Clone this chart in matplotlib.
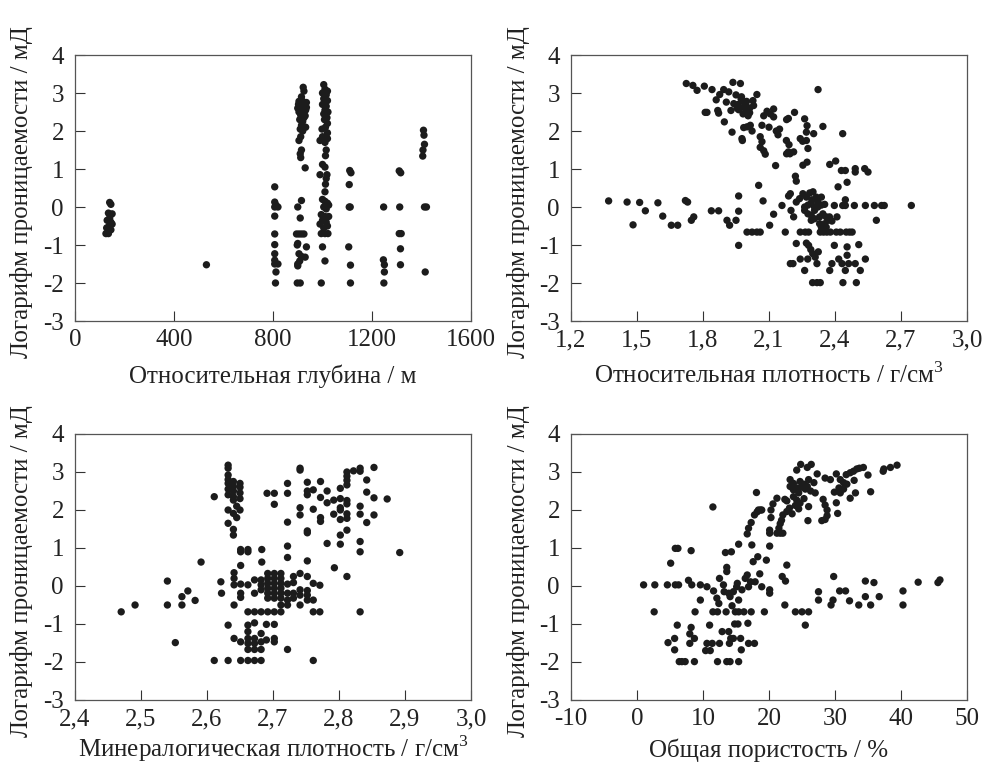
import matplotlib
matplotlib.use("Agg")
import matplotlib.pyplot as plt

plt.rcParams['font.family'] = ['Liberation Serif', 'DejaVu Serif']
plt.rcParams['mathtext.fontset'] = 'custom'
plt.rcParams['mathtext.rm'] = 'Liberation Serif'

# (x, log permeability) pairs
depth_points = [
    (140, 0.12), (145, 0.07), (135, -0.16), (142, -0.22), (150, -0.18), (130, -0.35), (145, -0.40),
    (138, -0.50), (150, -0.45), (128, -0.55), (135, -0.70), (125, -0.70), (145, -0.60), (140, -0.30),
    (531, -1.52),
    (807, 0.53), (807, 0.13), (807, 0.0), (820, 0.0), (807, -0.24), (807, -0.71), (807, -0.99),
    (807, -1.23), (807, -1.40), (807, -1.50), (820, -1.50), (812, -1.71), (810, -2.0), (812, 0.05),
    (922, 3.15), (925, 3.05), (915, 2.90), (905, 2.78), (920, 2.78), (935, 2.75), (910, 2.70),
    (928, 2.65), (900, 2.60), (918, 2.60), (932, 2.55), (905, 2.50), (925, 2.50), (912, 2.42),
    (930, 2.40), (908, 2.30), (920, 2.25), (915, 2.15), (932, 2.10), (910, 2.05), (920, 2.00),
    (912, 1.85), (905, 1.75), (915, 1.50), (910, 1.40), (912, 1.30), (930, 1.03), (925, 2.35),
    (903, 2.70), (935, 2.62),
    (915, 0.17), (900, 0.0), (910, -0.29), (895, -0.71), (905, -0.71), (915, -0.71), (925, -0.71),
    (900, -0.96), (935, -1.05), (898, -1.00), (905, -1.23), (915, -1.30), (930, -1.32), (900, -1.50),
    (908, -1.42), (898, -2.0), (910, -2.0), (900, -1.55),
    (1005, 3.22), (1010, 3.10), (1020, 3.05), (1000, 3.00), (1015, 2.95), (1005, 2.85), (1020, 2.80),
    (1000, 2.70), (1015, 2.65), (1010, 2.55), (1022, 2.50), (1005, 2.45), (1018, 2.35), (1008, 2.30),
    (1020, 2.20), (1012, 2.10), (1000, 1.85), (990, 1.75), (1010, 1.70), (1020, 1.80), (1015, 1.50),
    (1012, 1.35), (1000, 1.12), (1010, 1.05), (1018, 0.85), (990, 0.85), (1015, 0.75), (1012, 0.60),
    (1010, 0.40), (1000, 0.20), (1010, 0.15), (1020, 0.10), (1005, 0.0), (1015, -0.05), (1025, 0.05),
    (995, -0.20), (1010, -0.25), (1025, -0.25), (1000, -0.35), (1015, -0.40), (990, -0.45),
    (1020, -0.50), (1005, -0.55), (995, -0.70), (1010, -0.70), (1022, -0.70), (1000, -1.05),
    (1010, -1.42), (995, -2.0), (1020, 1.95), (998, 2.05),
    (1110, 0.96), (1115, 0.90), (1108, 0.59), (1108, 0.0), (1112, 0.0), (1106, -1.05), (1113, -1.53),
    (1113, -2.0),
    (1247, 0.0), (1246, -1.39), (1250, -1.52), (1250, -1.71), (1248, -2.0),
    (1310, 0.95), (1316, 0.90), (1312, 0.0), (1310, -0.70), (1318, -0.70), (1315, -1.10), (1315, -1.52),
    (1408, 2.02), (1410, 1.89), (1412, 1.65), (1406, 1.50), (1405, 1.34), (1420, 0.0), (1412, 0.0),
    (1415, -1.71),
]

rel_density_points = [
    (1.371, 0.16), (1.455, 0.13), (1.512, 0.12), (1.538, -0.10), (1.482, -0.47), (1.595, 0.11),
    (1.617, -0.24), (1.656, -0.48), (1.685, -0.48), (1.720, 0.17), (1.730, 0.13), (1.747, -0.35),
    (1.758, -0.26), (1.838, -0.10), (1.871, -0.10), (1.909, -0.35), (1.921, -0.48), (1.950, -0.35),
    (1.962, 0.29), (1.962, -0.11), (1.962, -1.01), (2.000, -0.66), (2.023, -0.66), (2.045, -0.66),
    (2.060, -0.66), (2.053, 0.57), (2.073, 0.16), (2.103, -0.48), (2.121, -0.19), (2.130, 1.09),
    (2.159, 0.04), (2.174, -0.66), (2.189, 0.29), (2.197, 0.35), (2.200, -0.09), (2.212, -0.26),
    (2.220, 0.81), (2.224, 0.68), (2.242, -0.66), (2.265, -0.66), (2.280, -0.66), (2.254, 1.10),
    (2.273, 1.18), (2.376, 1.12), (2.403, 1.21), (2.429, 0.96), (2.447, 0.96), (2.492, 1.01),
    (2.492, 0.92), (2.535, 1.01), (2.550, 0.92), (2.414, 0.53), (2.455, 0.65), (2.447, 0.19),
    (2.397, 0.04), (2.435, 0.04), (2.447, 0.04), (2.488, 0.04), (2.538, 0.04), (2.579, 0.04),
    (2.612, 0.04), (2.624, 0.04), (2.747, 0.04), (2.588, -0.35), (2.386, -0.37), (2.409, -0.26),
    (2.333, -0.66), (2.348, -0.66), (2.363, -0.66), (2.379, -0.66), (2.406, -0.66), (2.424, -0.66),
    (2.451, -0.66), (2.466, -0.66), (2.478, -0.66),
    (2.224, -0.96), (2.270, -0.95), (2.280, -1.01), (2.290, -1.12), (2.299, -1.23), (2.310, -1.32),
    (2.324, -1.18), (2.318, -1.49), (2.397, -1.01), (2.455, -1.05), (2.508, -0.99), (2.242, -1.37),
    (2.197, -1.49), (2.209, -1.49), (2.276, -1.37), (2.262, -1.67), (2.376, -1.67), (2.386, -1.49),
    (2.417, -1.37), (2.432, -1.49), (2.455, -1.27), (2.462, -1.49), (2.492, -1.49), (2.447, -1.67),
    (2.538, -1.37), (2.515, -1.67), (2.298, -1.99), (2.318, -1.99), (2.333, -1.99), (2.436, -1.99),
    (2.497, -1.99), (2.323, 3.09),
    (1.724, 3.25), (1.754, 3.20), (1.773, 3.07), (1.806, 3.18), (1.841, 3.09), (1.860, 2.82),
    (1.876, 2.96), (1.894, 3.09), (1.917, 3.03), (1.936, 3.28), (1.970, 3.25),
    (1.950, 2.95), (1.973, 2.85), (1.988, 2.75), (1.997, 2.65), (2.012, 2.60), (2.027, 2.80),
    (2.045, 2.96), (1.906, 2.76), (1.927, 2.54), (1.962, 2.56), (1.982, 2.45),
    (1.810, 2.49), (1.818, 2.49), (1.867, 2.54), (1.871, 2.47), (1.897, 2.24), (1.932, 1.97),
    (1.977, 1.80), (1.979, 1.75), (1.985, 2.09), (2.000, 2.11), (2.015, 2.15), (2.023, 2.00),
    (2.060, 1.85), (2.068, 1.72), (2.060, 1.57), (2.076, 1.48), (2.083, 1.39), (2.068, 2.15),
    (2.076, 2.40), (2.091, 2.52), (2.106, 2.45), (2.121, 2.58), (2.121, 2.37), (2.100, 2.10),
    (2.133, 2.00), (2.148, 2.05), (2.141, 1.90), (2.180, 2.30), (2.188, 2.33), (2.216, 2.49),
    (2.179, 1.75), (2.191, 1.64), (2.188, 1.45), (2.195, 1.40), (2.212, 1.45), (2.180, 1.40),
    (2.242, 1.80), (2.253, 1.73), (2.262, 2.32), (2.273, 2.14), (2.270, 1.97), (2.303, 1.93),
    (2.277, 1.54), (2.345, 2.12), (2.435, 1.93), (2.270, 1.75),
    (1.960, 2.70), (1.985, 2.62), (2.000, 2.55), (2.012, 2.48), (1.940, 2.72), (1.998, 2.78),
    (2.030, 2.67), (1.955, 2.60), (2.005, 2.40), (1.975, 2.90),
    (2.224, 0.13), (2.239, 0.22), (2.254, 0.35), (2.270, 0.26), (2.285, 0.37), (2.300, 0.40),
    (2.262, 0.00), (2.277, 0.05), (2.292, 0.10), (2.307, 0.00), (2.322, 0.13), (2.338, 0.26),
    (2.262, -0.09), (2.277, -0.18), (2.292, -0.22), (2.307, -0.09), (2.322, 0.00), (2.338, 0.05),
    (2.353, 0.07), (2.292, -0.35), (2.307, -0.31), (2.330, -0.26), (2.345, -0.18), (2.360, -0.26),
    (2.330, -0.44), (2.353, -0.44), (2.368, -0.35), (2.375, -0.26), (2.338, -0.53), (2.360, -0.53),
    (2.315, 0.26), (2.295, 0.19),
]

min_density_points = [
    (2.470, -0.68), (2.491, -0.50), (2.540, 0.13), (2.540, -0.50), (2.552, -1.49), (2.562, -0.28),
    (2.562, -0.50), (2.571, -0.13), (2.582, -0.38), (2.591, 0.63), (2.611, 2.35), (2.611, -1.96),
    (2.621, 0.11), (2.622, -0.19), (2.632, -1.96), (2.632, -1.03),
    (2.632, 3.18), (2.632, 3.10), (2.632, 2.92), (2.632, 2.80), (2.640, 2.75), (2.632, 2.70),
    (2.640, 2.62), (2.650, 2.60), (2.640, 2.50), (2.650, 2.45), (2.632, 2.40), (2.640, 2.35),
    (2.650, 2.30), (2.640, 2.26), (2.632, 2.00), (2.650, 2.00), (2.640, 1.91), (2.645, 1.80),
    (2.632, 1.65), (2.640, 1.49), (2.640, 1.34), (2.650, 2.70), (2.632, 2.55), (2.645, 2.10),
    (2.651, 0.96), (2.651, 0.90), (2.662, 0.96), (2.662, 0.90), (2.651, 0.54), (2.641, 0.35),
    (2.641, 0.20), (2.641, 0.03), (2.641, -0.50), (2.651, 0.05), (2.651, -0.19), (2.651, -0.30),
    (2.662, 0.03), (2.662, -0.68), (2.672, 0.16), (2.672, -0.19), (2.672, -0.68), (2.683, 0.96),
    (2.683, 0.63),
    (2.682, -0.68), (2.692, -0.68), (2.702, -0.68), (2.712, -0.68),
    (2.662, -1.03), (2.672, -0.97), (2.690, -1.01), (2.702, -1.01), (2.641, -1.38), (2.651, -1.47),
    (2.662, -1.20), (2.662, -1.38), (2.662, -1.51), (2.672, -1.38), (2.672, -1.51), (2.682, -1.25),
    (2.682, -1.47), (2.690, -1.42), (2.702, -1.38), (2.702, -1.47), (2.662, -1.67), (2.672, -1.67),
    (2.682, -1.67), (2.722, -1.67), (2.651, -1.96), (2.662, -1.96), (2.672, -1.96), (2.682, -1.96),
    (2.761, -1.96),
    (2.722, 2.70), (2.722, 2.44), (2.722, 1.68), (2.722, 1.05), (2.722, 0.75), (2.691, 2.44),
    (2.702, 2.44), (2.702, 2.15), (2.741, 3.10), (2.741, 3.05), (2.741, 2.06), (2.741, 1.87),
    (2.752, 2.73), (2.752, 2.40), (2.752, 2.50), (2.761, 2.53), (2.752, 1.40), (2.752, 1.45),
    (2.752, 0.66), (2.761, 2.02), (2.772, 2.75), (2.772, 2.33), (2.772, 1.80), (2.772, 1.70),
    (2.782, 2.50), (2.782, 2.19), (2.782, 1.12), (2.792, 2.26), (2.792, 1.89), (2.793, 0.48),
    (2.802, 2.57), (2.802, 2.30), (2.802, 2.00), (2.802, 2.06), (2.802, 1.75), (2.802, 1.34),
    (2.802, 1.10), (2.812, 3.00), (2.812, 2.89), (2.812, 2.78), (2.812, 2.66), (2.812, 2.25),
    (2.812, 2.16), (2.812, 1.90), (2.812, 1.78), (2.812, 1.47), (2.812, 0.25), (2.822, 3.03),
    (2.832, 3.02), (2.832, 3.10), (2.832, 2.10), (2.832, 1.89), (2.832, 1.17), (2.832, 0.90),
    (2.832, -0.68), (2.842, 2.79), (2.842, 2.47), (2.842, 1.67), (2.853, 3.12), (2.853, 2.32),
    (2.853, 1.87), (2.873, 2.29), (2.892, 0.88),
    (2.682, 0.16), (2.682, 0.03), (2.682, -0.10), (2.692, 0.33), (2.692, 0.20), (2.692, 0.07),
    (2.692, -0.06), (2.692, -0.19), (2.692, -0.32), (2.702, 0.33), (2.702, 0.20), (2.702, 0.07),
    (2.702, -0.06), (2.702, -0.19), (2.702, -0.32), (2.712, 0.33), (2.712, 0.20), (2.712, 0.07),
    (2.712, -0.06), (2.712, -0.19), (2.712, -0.32), (2.712, -0.50), (2.722, 0.05), (2.722, -0.19),
    (2.722, -0.37), (2.722, -0.50), (2.731, 0.25), (2.731, 0.09), (2.731, -0.19), (2.731, -0.32),
    (2.741, 0.33), (2.741, -0.10), (2.741, -0.24), (2.741, -0.50), (2.752, 0.25), (2.752, -0.12),
    (2.752, -0.24), (2.752, -0.37), (2.761, 0.07), (2.761, -0.37), (2.771, 0.02), (2.761, -0.68),
    (2.771, -0.68),
]

porosity_points = [
    (22.0, 0.25), (22.5, 0.13), (22.4, -0.50), (22.7, 0.55), (24.0, -0.68), (25.0, -0.68),
    (26.0, -0.68), (25.5, -1.03), (27.5, -0.15), (27.5, -0.37), (29.4, -0.50), (29.7, -0.37),
    (29.8, 0.25), (30.7, -0.13), (31.6, -0.13), (32.2, -0.39), (33.6, -0.50), (34.6, 0.13),
    (34.6, -0.28), (35.4, -0.50), (35.9, 0.09), (36.7, -0.28), (40.3, -0.13), (40.3, -0.50),
    (42.6, 0.10), (45.6, 0.09), (45.9, 0.16),
    (1.0, 0.03), (2.7, 0.03), (2.6, -0.68), (4.6, 0.03), (5.8, 0.03), (6.3, 0.03), (5.1, 0.60),
    (5.8, 0.99), (6.2, 0.99), (8.2, 0.93), (7.8, 0.15), (8.3, 0.03), (9.6, 0.03), (9.6, -0.37),
    (8.8, -0.68), (10.6, -0.02), (11.6, -0.13), (11.5, 2.08),
    (6.1, -1.03), (5.7, -1.38), (4.7, -1.49), (5.7, -1.68), (8.2, -1.09), (8.0, -1.26), (8.7, -1.38),
    (8.0, -1.51), (6.4, -1.99), (6.8, -1.99), (7.3, -1.99), (8.7, -1.99), (10.4, -1.70),
    (11.1, -1.70), (10.6, -1.51), (11.4, -1.51), (11.0, -1.03), (12.5, -1.51), (12.9, -1.20),
    (12.2, -1.99), (13.6, -1.99), (14.1, -1.99), (15.4, -1.99), (13.9, -1.20), (14.2, -1.38),
    (14.6, -1.38), (15.7, -1.38), (14.0, -1.51), (15.8, -1.68), (14.8, -1.00), (15.3, -1.00),
    (16.8, -0.98), (16.9, -1.51), (17.8, -1.51),
    (11.5, -0.68), (12.2, -0.68), (13.5, -0.68), (14.9, -0.68), (15.4, -0.68), (16.2, -0.68),
    (17.3, -0.68), (19.3, -0.68),
    (12.1, -0.32), (12.4, -0.46), (12.5, 0.20), (13.1, 0.03), (13.2, -0.15), (13.6, 0.38),
    (13.6, 0.49), (13.4, 0.88), (14.3, 0.90), (13.9, -0.19), (14.1, -0.28), (14.4, -0.52),
    (14.6, -0.15), (15.1, -0.02), (15.2, 0.07), (15.4, 1.10), (15.4, -0.37), (15.9, -0.10),
    (16.4, 0.20), (16.7, 0.29), (16.9, -0.02), (17.2, 0.11), (17.4, 1.08), (17.6, 0.64),
    (17.9, 0.11), (18.3, 0.77), (18.6, 0.32), (18.9, -0.02), (19.6, 0.68), (20.1, -0.10),
    (20.1, -0.19),
    (16.7, 1.37), (16.9, 1.52), (17.3, 1.67), (17.8, 1.87), (18.2, 1.95), (18.4, 2.00), (18.7, 2.00),
    (18.9, 2.00), (18.1, 2.46), (20.1, 1.05), (20.1, 1.39), (20.1, 1.47), (20.3, 1.80), (20.3, 2.00),
    (20.6, 2.16), (21.2, 2.31), (21.2, 1.39), (21.7, 1.39), (22.1, 1.39), (21.5, 1.52), (21.7, 1.64),
    (21.9, 1.73), (22.1, 1.87), (22.4, 2.28), (22.7, 2.24), (22.7, 1.96), (23.1, 2.05), (23.5, 1.90),
    (23.2, 2.80), (23.2, 2.62), (23.7, 2.53), (23.7, 2.70), (24.2, 2.58), (24.5, 2.45), (24.7, 2.75),
    (25.0, 2.60), (25.3, 2.68), (25.5, 2.55), (25.8, 2.62), (26.0, 2.80), (26.3, 2.50), (26.8, 2.72),
    (27.0, 2.45), (23.7, 2.35), (24.2, 2.26), (24.0, 2.12), (24.5, 2.03), (24.7, 2.18), (25.3, 2.30),
    (24.2, 3.05), (24.8, 3.20), (25.8, 3.12), (26.4, 3.20), (27.3, 2.95), (26.0, 2.09), (25.9, 1.72),
    (28.2, 2.28), (28.5, 2.13), (28.8, 2.00), (28.8, 1.85), (28.5, 1.75), (28.0, 1.72),
    (28.5, 2.84), (29.3, 2.80), (30.2, 2.95), (30.8, 2.80), (31.3, 2.72), (31.7, 2.93), (32.3, 2.98),
    (32.8, 3.02), (33.3, 3.08), (33.7, 3.10), (34.3, 3.12),
    (29.9, 2.47), (30.6, 2.58), (30.8, 2.45), (31.3, 2.55), (32.3, 2.31), (33.1, 2.45), (32.9, 2.78),
    (31.8, 2.68), (30.2, 2.19), (30.4, 1.91),
    (35.0, 2.92), (35.4, 2.48), (37.3, 3.02), (37.4, 3.08), (38.4, 3.12), (39.4, 3.18),
]

depth_ticks = [0, 400, 800, 1200, 1600]
depth_ticklabels = ['0', '400', '800', '1200', '1600']
rel_ticks = [1.2, 1.5, 1.8, 2.1, 2.4, 2.7, 3.0]
rel_ticklabels = ['1,2', '1,5', '1,8', '2,1', '2,4', '2,7', '3,0']
min_ticks = [2.4, 2.5, 2.6, 2.7, 2.8, 2.9, 3.0]
min_ticklabels = ['2,4', '2,5', '2,6', '2,7', '2,8', '2,9', '3,0']
por_ticks = [-10, 0, 10, 20, 30, 40, 50]
por_ticklabels = ['-10', '0', '10', '20', '30', '40', '50']
yticks = [-3, -2, -1, 0, 1, 2, 3, 4]
ylabel = 'Логарифм проницаемости / мД'

panels = [
    dict(pts=depth_points, xlim=(0, 1600), xticks=depth_ticks, xticklabels=depth_ticklabels,
         xlabel='Относительная глубина / м'),
    dict(pts=rel_density_points, xlim=(1.2, 3.0), xticks=rel_ticks, xticklabels=rel_ticklabels,
         xlabel='Относительная плотность / г/см$^3$'),
    dict(pts=min_density_points, xlim=(2.4, 3.0), xticks=min_ticks, xticklabels=min_ticklabels,
         xlabel='Минералогическая плотность / г/см$^3$'),
    dict(pts=porosity_points, xlim=(-10, 50), xticks=por_ticks, xticklabels=por_ticklabels,
         xlabel='Общая пористость / %'),
]

fig = plt.figure(figsize=(9.86, 7.67), dpi=100)
W, H = 986, 767
lefts = [75, 571]
tops = [55, 434]
label_drop = [62, 57]
aw, ah = 396, 266

for i, p in enumerate(panels):
    r, c = divmod(i, 2)
    ax = fig.add_axes([lefts[c] / W, 1 - (tops[r] + ah) / H, aw / W, ah / H])
    xs = [q[0] for q in p['pts']]
    ys = [q[1] for q in p['pts']]
    ax.scatter(xs, ys, s=28, color='#1c1c1c', edgecolors='none', zorder=3)
    ax.set_xlim(*p['xlim'])
    ax.set_ylim(-3, 4)
    ax.set_xticks(p['xticks'])
    ax.set_xticklabels(p['xticklabels'])
    ax.set_yticks(yticks)
    ax.set_yticklabels([str(v) for v in yticks])
    ax.tick_params(direction='in', length=7, width=0.8, color='#333333',
                   labelsize=18, pad=6, labelcolor='#222222')
    ax.tick_params(axis='y', pad=8)
    for s in ax.spines.values():
        s.set_linewidth(0.9)
        s.set_color('#555555')
    ax.set_xlabel(p['xlabel'], fontsize=18, color='#222222', va='baseline')
    ax.xaxis.set_label_coords(0.5, -label_drop[r] / ah)
    ax.set_ylabel(ylabel, fontsize=18, color='#222222', va='center', ha='center')
    ax.yaxis.set_label_coords(-53 / aw, 0.5 - 4 / ah)

fig.savefig('out.png', dpi=100)
